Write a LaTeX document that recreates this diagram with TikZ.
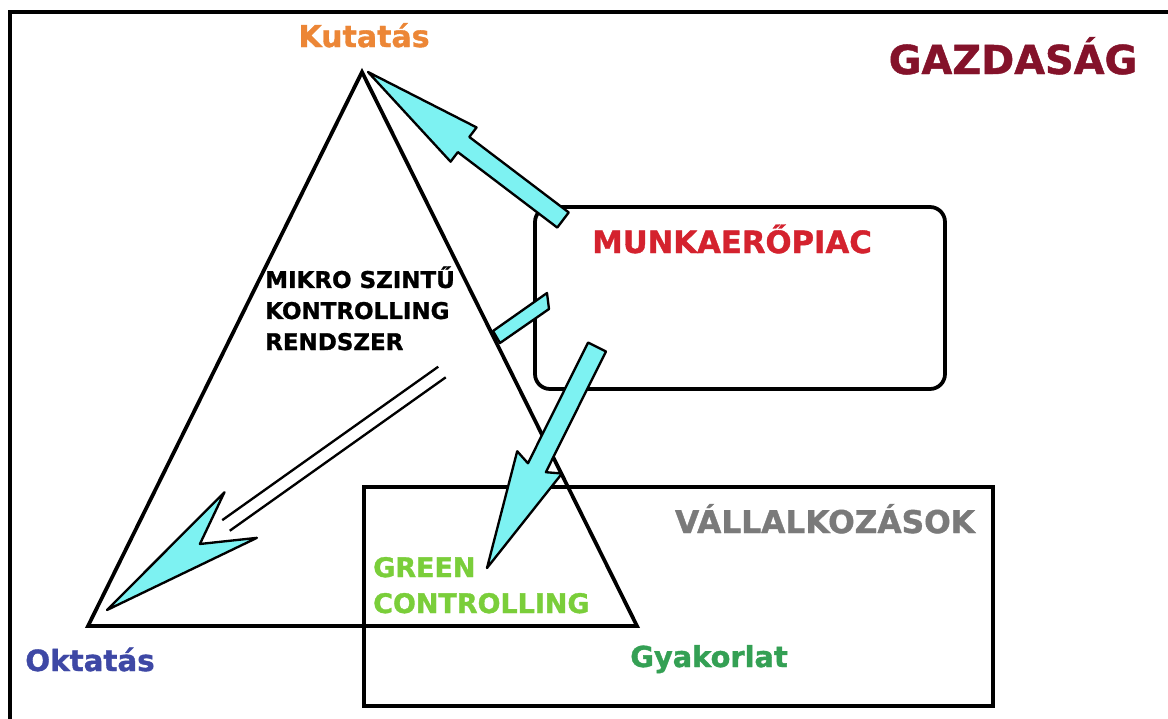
\documentclass[tikz,border=0pt]{standalone}
\usepackage{fontspec}
\setmainfont{DejaVu Sans}[BoldFeatures={FakeBold=1.2}]
\usetikzlibrary{calc}
\definecolor{arrcyan}{RGB}{125,242,242}
\definecolor{kutcol}{RGB}{236,134,54}
\definecolor{oktcol}{RGB}{62,72,165}
\definecolor{gyakcol}{RGB}{52,160,84}
\definecolor{gazdcol}{RGB}{132,18,42}
\definecolor{munkacol}{RGB}{212,34,46}
\definecolor{vallcol}{RGB}{122,122,122}
\definecolor{greencol}{RGB}{122,206,58}
\newcommand{\pxu}{0.03cm}
\newcommand{\lblsize}[2]{\bfseries\fontsize{#1}{#2}\selectfont}
% block arrow: tail, tip, shaft half width, head half width, head length, barb sweep (px)
\newcommand{\blockarrow}[6]{%
  \coordinate (hb) at ($(#2)!#5*\pxu!(#1)$);
  \coordinate (hw) at ($(#2)!#5*\pxu+#6*\pxu!(#1)$);
  \draw[blk] ($(#1)!#3*\pxu!90:(#2)$) -- ($(hb)!#3*\pxu!90:(#2)$) -- ($(hw)!#4*\pxu!90:(#2)$) -- (#2)
    -- ($(hw)!#4*\pxu!-90:(#2)$) -- ($(hb)!#3*\pxu!-90:(#2)$) -- ($(#1)!#3*\pxu!-90:(#2)$) -- cycle;}

\begin{document}
\begin{tikzpicture}[x=\pxu,y=-\pxu,
  frame/.style={line width=3.4pt},
  edge/.style={line width=3.2pt,line join=miter},
  blk/.style={draw=black,fill=arrcyan,line width=2pt,line join=round},
  dbl/.style={line width=2pt},
  lbl/.style={anchor=base,inner sep=0pt}]
 \useasboundingbox (0,0) rectangle (1168,718);
 \clip (0,0) rectangle (1168,718);
 \fill[white] (0,0) rectangle (1168,718);
 \draw[frame] (10,12) rectangle (1220,760);
 % boxes
 \draw[edge,rounded corners=0.45cm] (535,207) rectangle (945,389);
 \draw[edge] (364,487) rectangle (993,706);
 % triangle
 \coordinate (apex) at (362,72);
 \coordinate (bl) at (88,626);
 \coordinate (br) at (637,626);
 \draw[edge] (apex) -- (bl) -- (br) -- cycle;
 % arrows
 \coordinate (t1) at (563,220); \coordinate (h1) at (368,72);
 \blockarrow{t1}{h1}{9.5}{21.5}{120}{0}
 \draw[blk] (493,331) -- (547,293) -- (549,309) -- (500,343) -- cycle;
 \coordinate (t4) at (597,347); \coordinate (h4) at (487,568);
 \blockarrow{t4}{h4}{10}{25}{112}{6}
 \coordinate (t3) at (442,372); \coordinate (h3) at (107,610);
 \coordinate (n3) at ($(h3)!114*\pxu!(t3)$);
 \coordinate (w3) at ($(h3)!164*\pxu!(t3)$);
 \coordinate (s3) at ($(h3)!146*\pxu!(t3)$);
 \draw[blk] (h3) -- ($(w3)!28*\pxu!90:(h3)$) -- (n3) -- ($(w3)!28*\pxu!-90:(h3)$) -- cycle;
 \draw[dbl] ($(t3)!6.5*\pxu!90:(h3)$) -- ($(s3)!6.5*\pxu!90:(h3)$);
 \draw[dbl] ($(t3)!6.5*\pxu!-90:(h3)$) -- ($(s3)!6.5*\pxu!-90:(h3)$);
 % labels
 \node[lbl,kutcol,font=\lblsize{25.6pt}{30pt}] (kut) at (364,47) {Kutatás};
 \node[lbl,gazdcol,font=\lblsize{34pt}{40pt}] (gazd) at (1013,74) {GAZDASÁG};
 \node[lbl,munkacol,font=\lblsize{26.2pt}{30pt}] (munka) at (732,253) {MUNKAERŐPIAC};
 \node[lbl,anchor=base west,align=left,font=\lblsize{19.6pt}{26.5pt}] (mikro) at (265,350) {MIKRO SZINTŰ\\KONTROLLING\\RENDSZER};
 \node[lbl,anchor=base west,align=left,greencol,font=\lblsize{23pt}{30.7pt}] (green) at (373,613) {GREEN\\CONTROLLING};
 \node[lbl,vallcol,font=\lblsize{26.7pt}{30pt}] (vall) at (825,533) {VÁLLALKOZÁSOK};
 \node[lbl,gyakcol,font=\lblsize{24.6pt}{30pt}] (gyak) at (709,667) {Gyakorlat};
 \node[lbl,oktcol,font=\lblsize{25pt}{30pt}] (okt) at (90,671) {Oktatás};
\end{tikzpicture}
\end{document}
